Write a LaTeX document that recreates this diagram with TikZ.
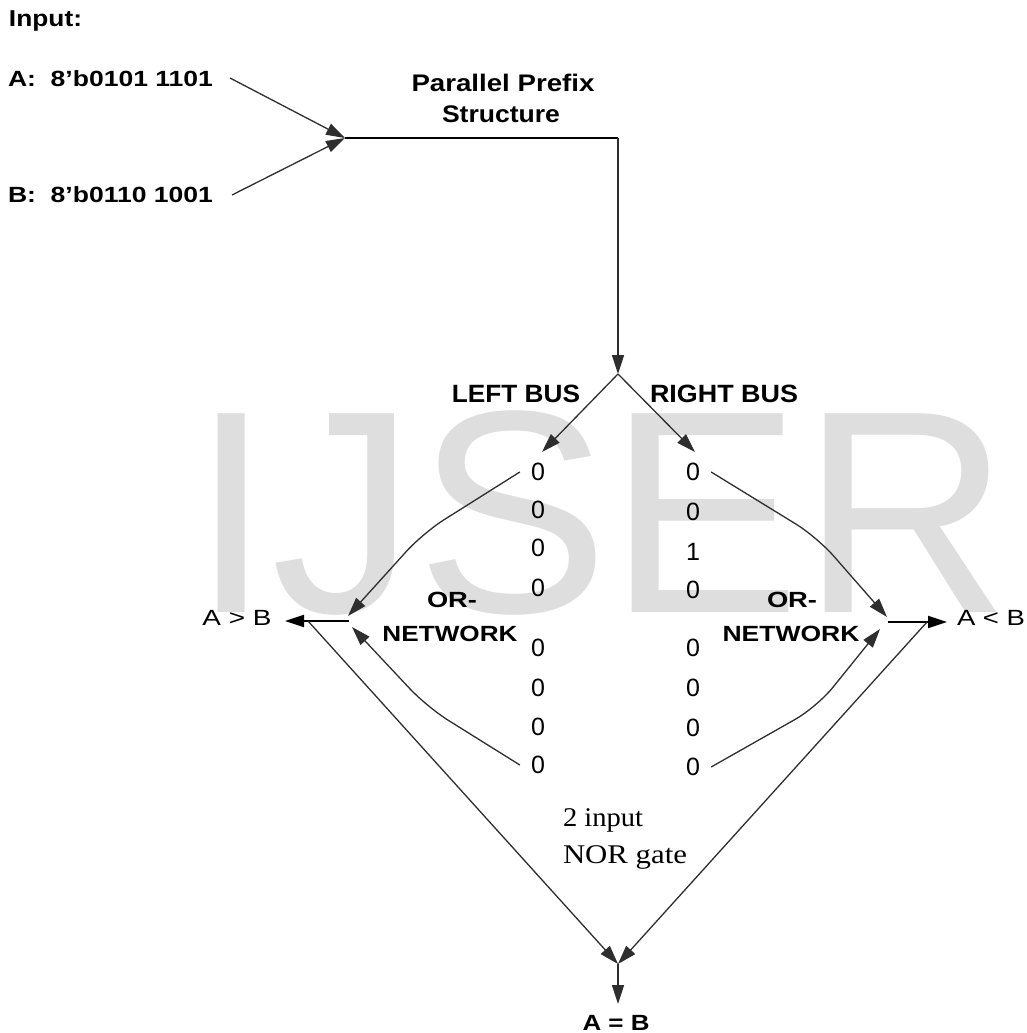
\documentclass[tikz,border=0pt]{standalone}
\usepackage{fontspec}
\setmainfont{Liberation Sans}
\newfontfamily\timesf{Liberation Serif}
\usetikzlibrary{arrows.meta}
\newcommand\fitx[3]{\resizebox{#1pt}{\height}{\fontsize{#2pt}{#2pt}\selectfont #3}}
\begin{document}
\begin{tikzpicture}[x=1pt,y=-1pt,
  lbl/.style={inner sep=0pt,outer sep=0pt},
  tip/.style={-{Triangle[length=19pt,width=12pt]}},
  thinc/.style={draw=black!82,line width=1.3pt,tip},
  thickc/.style={draw=black,line width=2.2pt},
  bit/.style={inner sep=0pt,font=\fontsize{25pt}{25pt}\selectfont},
  wm/.style={inner sep=0pt,text=black!13,font=\fontsize{289pt}{289pt}\selectfont,anchor=base west}]
\useasboundingbox (0,0) rectangle (1026,1033);
\node[wm] (wmark) at (191,612) {IJSER};

% texts
\node[lbl,anchor=base west] (inp) at (9,27) {\fitx{73}{23}{\bfseries Input:}};
\node[lbl,anchor=base west] (ina) at (8,86) {\fitx{205}{22}{\bfseries A:~~8'b0101 1101}};
\node[lbl,anchor=base west] (inb) at (8,202) {\fitx{205}{22}{\bfseries B:~~8'b0110 1001}};
\node[lbl,anchor=base] (pp1) at (503,91) {\fitx{183}{24}{\bfseries Parallel Prefix}};
\node[lbl,anchor=base] (pp2) at (501,122) {\fitx{118}{24}{\bfseries Structure}};
\node[lbl,anchor=base] (lbus) at (516,402) {\fitx{128}{25}{\bfseries LEFT BUS}};
\node[lbl,anchor=base] (rbus) at (724,402) {\fitx{148}{25}{\bfseries RIGHT BUS}};
\node[lbl,anchor=base] (lor1) at (452,607) {\fitx{50}{22}{\bfseries OR-}};
\node[lbl,anchor=base] (lor2) at (450,641) {\fitx{135}{22}{\bfseries NETWORK}};
\node[lbl,anchor=base] (ror1) at (792,607) {\fitx{50}{22}{\bfseries OR-}};
\node[lbl,anchor=base] (ror2) at (791,641) {\fitx{137}{22}{\bfseries NETWORK}};
\node[lbl,anchor=base] (gt) at (237,625) {\fitx{69}{22}{A > B}};
\node[lbl,anchor=base] (lt) at (991,625) {\fitx{68}{22}{A < B}};
\node[lbl,anchor=base] (eq) at (616,1030) {\fitx{67}{22}{\bfseries A = B}};
\node[lbl,anchor=base west] (nor1) at (563,826) {\fitx{80}{27}{\timesf 2 input}};
\node[lbl,anchor=base west] (nor2) at (563,863) {\fitx{124}{27}{\timesf NOR gate}};

% bits
\foreach \y [count=\i] in {472,510,548,588,648,688,727,765}
  \node[bit] (l\i) at (538,\y) {0};
\foreach \y/\v [count=\i] in {472/0,512/0,552/1,590/0,648/0,688/0,728/0,767/0}
  \node[bit] (r\i) at (693,\y) {\v};

% coordinates
\coordinate (aS) at (230,78);
\coordinate (bS) at (232,195);
\coordinate (j1) at (345,138);
\coordinate (j2) at (618,138);
\coordinate (sp) at (618,374);
\coordinate (lbT) at (542,452);
\coordinate (rbT) at (695,452);
\coordinate (lj) at (349,621);
\coordinate (rj) at (888,622);
\coordinate (gtT) at (285,621);
\coordinate (ltT) at (947,622);
\coordinate (gtap) at (308,621);
\coordinate (ltap) at (927,622);
\coordinate (eqJ) at (618,964);
\coordinate (eqT) at (618,1004);

% connectors
\draw[thinc] (aS) -- (j1);
\draw[thinc] (bS) -- (j1);
\draw[thickc] (j1) -- (j2);
\draw[thinc,line width=1.6pt] (j2) -- (sp);
\draw[thinc] (sp) -- (lbT);
\draw[thinc] (sp) -- (rbT);

\draw[thinc,rounded corners=25pt] ([xshift=-11pt]l1.west) -- (423,533) -- (348,616);
\draw[thinc,rounded corners=25pt] ([xshift=-11pt]l8.west) -- (427,707) -- (352,627);
\draw[thickc,tip] (lj) -- (gtT);

\draw[thinc,rounded corners=25pt] ([xshift=11pt]r1.east) -- (817,537) -- (887,617);
\draw[thinc,rounded corners=25pt] ([xshift=11pt]r8.east) -- (817,707) -- (880,629);
\draw[thickc,tip] (rj) -- (ltT);

\draw[thinc] (gtap) -- (eqJ);
\draw[thinc] (ltap) -- (eqJ);
\draw[thinc,line width=1.6pt] (eqJ) -- (eqT);
\end{tikzpicture}
\end{document}
